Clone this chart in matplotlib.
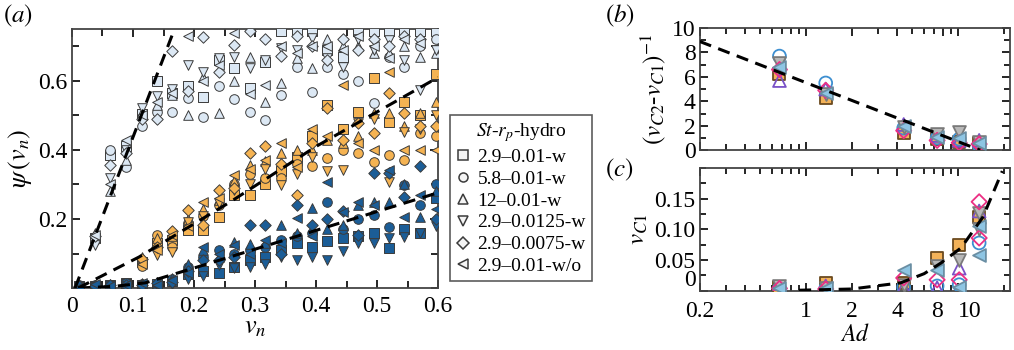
import numpy as np
import matplotlib
matplotlib.use('Agg')
import matplotlib.pyplot as plt
from matplotlib.lines import Line2D
from matplotlib.ticker import MultipleLocator, FixedLocator, LogLocator, NullFormatter

plt.rcParams['font.family'] = ['Liberation Serif', 'DejaVu Serif']
plt.rcParams['mathtext.fontset'] = 'stix'

n = np.nan

# ---- panel (a) data: columns of v_n, psi values per group / marker
v_cols = [0.012, 0.037, 0.063, 0.088, 0.114, 0.139, 0.164, 0.190, 0.215, 0.241, 0.266, 0.291,
          0.317, 0.342, 0.368, 0.393, 0.418, 0.444, 0.469, 0.495, 0.520, 0.545, 0.571, 0.596]

light_sq = [n, .145, .385, .41, .505, .60, .565, .585, .553, .66, .637, .58, .655, .745, .745, .745, .69, .67, .745, .745, .745, .745, .745, .745]
light_ci = [n, .14, .40, .35, .47, .51, .51, .55, .496, .585, .548, .51, .487, .56, .64, .568, .64, .62, .60, .536, .67, .64, .70, .72]
light_up = [n, .16, .28, .37, .51, .53, .56, .50, .61, .507, .60, .67, .54, .594, .667, .637, .72, .70, .70, .68, .68, .70, .67, .68]
light_dn = [n, .125, .32, .40, .52, .555, .575, .645, .625, .667, .67, .637, .66, .695, .69, .724, .667, .64, .72, .69, .718, .66, .574, .69]
light_di = [n, .15, .355, .39, .49, .49, .685, .57, .728, .627, .704, .745, .72, .672, .73, .70, .66, .72, .69, .72, .70, .73, .72, n]
light_le = [n, .155, .30, .43, .50, .54, .565, .73, .60, .645, .739, .562, .588, .70, .68, .70, .70, .69, .73, .70, .665, .72, .71, n]

orange_sq = [n, n, n, .015, .075, .13, .14, .168, .168, .207, .27, .27, .30, .338, .38, .44, .53, .462, .51, .607, .482, .54, .50, .62]
orange_ci = [n, n, n, n, .065, .154, .12, .188, .21, .24, .30, .33, .32, .318, .36, .352, .376, .40, .39, .366, .386, .37, .448, .44]
orange_up = [n, n, n, n, .09, .145, .15, .20, .23, .255, .31, .357, .367, .39, .40, .40, .43, .42, .44, .506, .506, .47, .506, .54]
orange_dn = [n, n, n, n, n, .096, .105, .192, .21, .245, .285, .30, .345, .298, .33, .38, .34, .342, .477, .49, .308, .453, .46, .50]
orange_di = [n, n, n, n, .085, .12, .165, .226, .183, .284, .29, .391, .41, .36, .27, .42, .52, .43, .477, .45, .564, .506, .47, .47]
orange_le = [n, n, n, n, .07, .11, .155, .18, .25, .26, .328, .345, .37, .42, .35, .462, .44, .589, .42, .40, .627, .40, .40, .40]

blue_sq = [.005, .006, .01, .012, .008, .012, .02, .04, .048, .043, .06, .08, .09, .11, .13, .12, .135, .144, .15, .159, .115, .17, .16, .26]
blue_ci = [.008, .01, .006, .015, .012, .01, .025, .06, .09, .11, .10, .11, .12, .14, .15, .16, .25, .17, .20, .212, .178, .298, .24, .30]
blue_up = [.01, .008, .012, .01, .015, .018, .03, .07, .11, .09, .133, .129, .13, .183, .16, .232, .17, .183, .24, .25, .25, .30, .207, .28]
blue_dn = [.003, .004, .005, .006, .005, .006, .012, .025, .035, .067, .057, .062, .07, .09, .081, .09, .081, .106, .13, .13, .144, .149, .159, .18]
blue_di = [.006, .007, .008, .009, .01, .014, .018, .05, .08, .08, .09, .183, .183, .10, .241, .183, .20, .222, .154, .332, .333, .265, .352, .20]
blue_le = [.004, .012, .006, .008, .014, .008, .022, .045, .12, .10, .125, .10, .14, .13, .202, .15, .308, .22, .25, .24, .342, .207, .27, .23]

# dashed fits in (a)
fit_light_v = [0.005, 0.168]
fit_light_psi = [0.0, 0.75]
fit_orange_v = [0.01, 0.11, 0.26, 0.40, 0.60]
fit_orange_psi = [0.0, 0.09, 0.25, 0.41, 0.61]
fit_blue_v = [0.01, 0.07, 0.12, 0.20, 0.60]
fit_blue_psi = [0.0, 0.005, 0.015, 0.058, 0.276]

legend_labels = ['2.9\u20130.01-w', '5.8\u20130.01-w', '12\u20130.01-w',
                 '2.9\u20130.0125-w', '2.9\u20130.0075-w', '2.9\u20130.01-w/o']

# ---- panels (b), (c)
ad_b = [0.67, 1.35, 4.4, 7.3, 10.2, 13.8]
b_sq = [6.2, 4.3, 1.4, 0.9, 0.7, 0.6]
b_ci = [7.7, 5.5, 1.8, 1.0, 0.9, 0.4]
b_up = [5.7, 5.0, 2.1, 1.2, 0.8, 0.8]
b_dn = [7.1, 4.6, 1.9, 1.3, 1.5, 0.7]
b_di = [6.6, 4.9, 1.6, 0.8, 0.6, 0.5]
b_le = [6.8, 4.7, 2.0, 1.1, 1.0, 0.6]
fit_b_ad = [0.2, 14.0]
fit_b_y = [8.9, 0.0]

ad_c = [0.67, 1.35, 4.4, 7.3, 10.2, 13.8, 13.8]
c_sq = [.006, .0125, .012, .053, .075, .121, n]
c_ci = [.004, .004, .006, .008, .01, .078, n]
c_up = [.005, .008, .006, .005, .037, .13, n]
c_dn = [.008, .005, .01, .04, .05, .127, .10]
c_di = [.004, .003, .021, .018, .018, .145, .086]
c_le = [.005, .004, .034, .034, .007, .105, .059]
fit_c_ad = [0.9, 2.0, 4.2, 6.0, 7.7, 10.5, 14.6, 19.6]
fit_c_y = [0.001, 0.003, 0.013, 0.028, 0.045, 0.07, 0.12, 0.195]

markers = ['s', 'o', '^', 'v', 'D', '<']
TS = 17

fig = plt.figure(figsize=(10.14, 3.5), dpi=100)

# ================= panel (a)
ax = fig.add_axes([0.071, 0.177, 0.361, 0.740])
groups = [
    ('#dce8f4', [light_sq, light_ci, light_up, light_dn, light_di, light_le]),
    ('#f5b352', [orange_sq, orange_ci, orange_up, orange_dn, orange_di, orange_le]),
    ('#1b5d97', [blue_sq, blue_ci, blue_up, blue_dn, blue_di, blue_le]),
]
for col, arrs in groups:
    for m, vals in zip(markers, arrs):
        ax.scatter(v_cols, vals, marker=m, s=48 if m != 'D' else 34, c=col,
                   edgecolors='#3b3b3b', linewidths=0.7, zorder=3)

for fv, fp in [(fit_light_v, fit_light_psi), (fit_orange_v, fit_orange_psi), (fit_blue_v, fit_blue_psi)]:
    ax.plot(fv, fp, color='black', ls=(0, (4, 2.5)), lw=2.2, zorder=4)

ax.set_xlim(0, 0.6)
ax.set_ylim(0, 0.75)
ax.set_xticks([0, 0.1, 0.2, 0.3, 0.4, 0.5, 0.6])
ax.set_xticklabels(['0', '0.1', '0.2', '0.3', '0.4', '0.5', '0.6'])
ax.set_yticks([0.2, 0.4, 0.6])
ax.set_yticklabels(['0.2', '0.4', '0.6'])
ax.xaxis.set_minor_locator(MultipleLocator(0.05))
ax.yaxis.set_minor_locator(MultipleLocator(0.1))
ax.tick_params(which='both', direction='in', top=True, right=True, labelsize=TS, width=1.2)
ax.tick_params(which='major', length=6)
ax.tick_params(which='minor', length=5)
ax.tick_params(axis='x', pad=6)
for sp in ax.spines.values():
    sp.set_linewidth(1.3)
    sp.set_color('#444444')
ax.set_xlabel(r'$v_n$', fontsize=19, labelpad=0)
ax.set_ylabel(r'$\psi\,(v_n)$', fontsize=19, labelpad=3)
fig.text(0.003, 0.955, r'$(a)$', fontsize=18, va='center')

# legend
handles = [Line2D([], [], marker=m, ls='none', mfc='#f4f4f4', mec='#3b3b3b', mew=1.1, ms=6.5)
           for m in markers]
leg = fig.legend(handles, legend_labels, loc='upper left', bbox_to_anchor=(0.444, 0.671),
                 frameon=True, fancybox=False, edgecolor='#333333', fontsize=14,
                 title=r'$St$-$r_p$-hydro', title_fontsize=14, handlelength=0.7,
                 handletextpad=0.4, labelspacing=0.22, borderpad=0.3, borderaxespad=0)
leg.get_frame().set_linewidth(1.2)

# ================= panels (b) and (c)
styles = [
    dict(marker='s', facecolors='#f3b259', edgecolors='#6b4a1f'),
    dict(marker='o', facecolors='none', edgecolors='#3d8fd1'),
    dict(marker='^', facecolors='none', edgecolors='#7a52c7'),
    dict(marker='v', facecolors='#b8b8b8', edgecolors='#7a7a7a'),
    dict(marker='D', facecolors='none', edgecolors='#ec2f84'),
    dict(marker='<', facecolors='#8ec5e3', edgecolors='#6a8ea3'),
]

axb = fig.add_axes([0.690, 0.571, 0.306, 0.349])
axc = fig.add_axes([0.690, 0.169, 0.306, 0.351])

for st, vals in zip(styles, [b_sq, b_ci, b_up, b_dn, b_di, b_le]):
    axb.scatter(ad_b, vals, s=85 if st['marker'] != 'D' else 60, linewidths=1.3, zorder=3, **st)
axb.plot(fit_b_ad, fit_b_y, color='black', ls=(0, (4, 2.5)), lw=2.2, zorder=4)

for st, vals in zip(styles, [c_sq, c_ci, c_up, c_dn, c_di, c_le]):
    axc.scatter(ad_c, vals, s=85 if st['marker'] != 'D' else 60, linewidths=1.3, zorder=3, **st)
axc.plot(fit_c_ad, fit_c_y, color='black', ls=(0, (4, 2.5)), lw=2.2, zorder=4)

for a in (axb, axc):
    a.set_xscale('log')
    a.set_xlim(0.2, 22)
    a.xaxis.set_major_locator(FixedLocator([0.2, 1, 2, 4, 8, 10]))
    a.xaxis.set_minor_locator(LogLocator(base=10, subs=np.arange(2, 10)))
    a.xaxis.set_minor_formatter(NullFormatter())
    a.tick_params(which='both', direction='in', top=True, right=True, labelsize=TS, width=1.2)
    a.tick_params(which='major', length=6)
    a.tick_params(which='minor', length=4)
    a.tick_params(axis='x', pad=7)
    a.tick_params(axis='y', pad=3)
    for sp in a.spines.values():
        sp.set_linewidth(1.3)
        sp.set_color('#444444')

axb.set_xticklabels([])
axb.set_ylim(0, 10)
axb.set_yticks([0, 2, 4, 6, 8, 10])
axb.yaxis.set_minor_locator(MultipleLocator(1))
axb.set_ylabel(r'$(v_{C2}$-$v_{C1})^{-1}$', fontsize=18, labelpad=3)

axc.set_xticklabels(['0.2', '1', '2', '4', '8', '10'])
for lbl in axc.get_xticklabels():
    if lbl.get_text() == '8':
        lbl.set_horizontalalignment('right')
    if lbl.get_text() == '10':
        lbl.set_horizontalalignment('left')
axc.set_ylim(0, 0.2)
axc.set_yticks([0, 0.05, 0.10, 0.15])
axc.set_yticklabels(['0', '0.05', '0.10', '0.15'])
for lbl in axc.get_yticklabels():
    if lbl.get_text() == '0':
        lbl.set_verticalalignment('bottom')
axc.yaxis.set_minor_locator(MultipleLocator(0.025))
axc.set_ylabel(r'$v_{C1}$', fontsize=18, labelpad=3)
axc.set_xlabel(r'$Ad$', fontsize=17)
axc.xaxis.set_label_coords(0.5, -0.27)

fig.text(0.597, 0.955, r'$(b)$', fontsize=18, va='center')
fig.text(0.597, 0.515, r'$(c)$', fontsize=18, va='center')

fig.savefig('out.png', dpi=100)
